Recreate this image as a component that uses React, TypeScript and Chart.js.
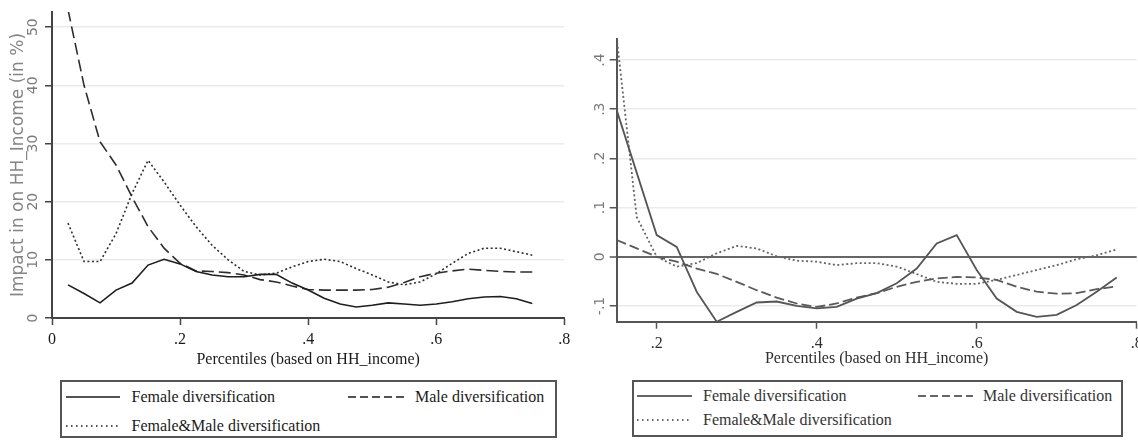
import React, { useEffect, useRef } from "react";
import { Chart, registerables } from "chart.js";

Chart.register(...registerables);

// ---------- data ----------
const leftX = [0.025, 0.05, 0.075, 0.1, 0.125, 0.15, 0.175, 0.2, 0.225, 0.25, 0.275, 0.3, 0.325, 0.35, 0.375, 0.4, 0.425, 0.45, 0.475, 0.5, 0.525, 0.55, 0.575, 0.6, 0.625, 0.65, 0.675, 0.7, 0.725, 0.75];
const leftFemale = [5.7, 4.2, 2.6, 4.8, 6.0, 9.1, 10.1, 9.3, 8.0, 7.4, 7.1, 7.1, 7.5, 7.5, 6.0, 4.8, 3.4, 2.4, 1.9, 2.2, 2.6, 2.4, 2.2, 2.4, 2.8, 3.3, 3.6, 3.7, 3.3, 2.5];
const leftMale = [53, 40.0, 30.3, 26.3, 20.8, 15.7, 12.0, 9.4, 8.1, 8.0, 7.8, 7.4, 6.6, 6.2, 5.5, 4.9, 4.8, 4.8, 4.8, 4.9, 5.3, 6.1, 7.1, 7.7, 8.1, 8.4, 8.2, 8.0, 7.9, 7.9];
const leftBoth = [16.3, 9.7, 9.7, 14.5, 21.4, 27.1, 23.4, 19.4, 15.7, 12.5, 10.0, 8.0, 7.4, 7.7, 8.8, 9.7, 10.1, 9.7, 8.5, 7.4, 6.2, 5.7, 6.2, 7.6, 9.4, 11.1, 12.0, 12.0, 11.4, 10.8];

const rightX = [0.15, 0.175, 0.2, 0.225, 0.25, 0.275, 0.3, 0.325, 0.35, 0.375, 0.4, 0.425, 0.45, 0.475, 0.5, 0.525, 0.55, 0.575, 0.6, 0.625, 0.65, 0.675, 0.7, 0.725, 0.75, 0.775];
const rightFemale = [0.298, 0.171, 0.044, 0.02, -0.071, -0.132, -0.112, -0.093, -0.091, -0.1, -0.105, -0.102, -0.085, -0.074, -0.054, -0.024, 0.027, 0.044, -0.027, -0.085, -0.112, -0.122, -0.118, -0.098, -0.071, -0.042];
const rightMale = [0.034, 0.017, 0.0, -0.01, -0.024, -0.035, -0.051, -0.068, -0.083, -0.095, -0.102, -0.095, -0.083, -0.074, -0.061, -0.051, -0.044, -0.041, -0.042, -0.047, -0.061, -0.071, -0.075, -0.074, -0.066, -0.06];
const rightBoth = [0.445, 0.081, 0.0, -0.02, -0.013, 0.007, 0.022, 0.017, 0.001, -0.008, -0.01, -0.017, -0.013, -0.013, -0.02, -0.035, -0.051, -0.055, -0.055, -0.047, -0.037, -0.027, -0.017, -0.005, 0.003, 0.015];

const seriesLabels = ["Female diversification", "Male diversification", "Female&Male diversification"];
const xTitle = "Percentiles (based on HH_income)";
const leftYTitle = "Impact in on HH_Income (in %)";

// ---------- helpers ----------
const fmtDec = (v: number) => {
  const r = Math.round(Number(v) * 10) / 10;
  if (Math.abs(r) < 1e-9) return "0";
  return r.toFixed(1).replace(/^(-?)0\./, "$1.");
};
const fmtInt = (v: number) => String(Math.round(Number(v)));

const SERIF = "'Liberation Serif', 'Times New Roman', serif";
const SANS = "'DejaVu Sans', sans-serif";

type Panel = {
  xs: number[];
  series: number[][];
  xMin: number;
  xMax: number;
  yMin: number;
  yMax: number;
  yStep: number;
  yFmt: (v: number) => string;
  pad: { top: number; right: number; bottom: number; left: number };
  yWidth: number;
  xHeight: number;
  yTickPad: number;
  xTickPad: number;
  xTitlePadBottom: number;
  yTitle?: string;
  lineColors: string[];
  lineWidths: number[];
  dashes: number[][];
  axisColor: string;
  textColor: string;
  zeroLine: boolean;
};

function makeConfig(p: Panel): any {
  return {
    type: "line",
    data: {
      datasets: p.series.map((s, k) => ({
        label: seriesLabels[k],
        data: p.xs.map((x, i) => ({ x, y: s[i] })),
        borderColor: p.lineColors[k],
        borderWidth: p.lineWidths[k],
        borderDash: p.dashes[k],
        pointRadius: 0,
        tension: 0,
        fill: false,
      })),
    },
    options: {
      animation: false,
      responsive: false,
      maintainAspectRatio: false,
      layout: { padding: p.pad },
      plugins: { legend: { display: false }, tooltip: { enabled: false } },
      scales: {
        x: {
          type: "linear",
          min: p.xMin,
          max: p.xMax,
          ticks: {
            stepSize: 0.2,
            includeBounds: false,
            autoSkip: false,
            maxRotation: 0,
            callback: (v: number) => fmtDec(v),
            font: { family: SERIF, size: 16 },
            color: p.textColor,
            padding: p.xTickPad,
          },
          grid: {
            drawOnChartArea: false,
            drawTicks: true,
            tickLength: 7,
            tickColor: p.axisColor,
            tickWidth: 1.5,
          },
          border: { color: p.axisColor, width: 2 },
          title: {
            display: true,
            text: xTitle,
            font: { family: SERIF, size: 16 },
            color: p.textColor,
            padding: { top: 0, bottom: p.xTitlePadBottom },
          },
          afterFit: (s: any) => {
            s.height = p.xHeight;
            s.paddingLeft = 0;
            s.paddingRight = 0;
          },
        },
        y: {
          type: "linear",
          min: p.yMin,
          max: p.yMax,
          ticks: {
            stepSize: p.yStep,
            includeBounds: false,
            autoSkip: false,
            minRotation: 90,
            maxRotation: 90,
            crossAlign: "center",
            callback: (v: number) => p.yFmt(v),
            font: { family: SANS, size: 14 },
            color: "#7a7a7a",
            padding: p.yTickPad,
          },
          grid: {
            color: (ctx: any) =>
              p.zeroLine && ctx.tick && Math.abs(ctx.tick.value) < 1e-9 ? "#666" : "#ebebeb",
            lineWidth: (ctx: any) =>
              p.zeroLine && ctx.tick && Math.abs(ctx.tick.value) < 1e-9 ? 2 : 1.5,
            tickLength: 7,
            tickColor: p.axisColor,
            tickWidth: 1.5,
          },
          border: { color: p.axisColor, width: 2 },
          title: p.yTitle
            ? {
                display: true,
                text: p.yTitle,
                font: { family: SANS, size: 17 },
                color: "#858585",
                padding: { top: 8, bottom: 0 },
              }
            : { display: false },
          afterFit: (s: any) => {
            s.width = p.yWidth;
            s.paddingTop = 0;
            s.paddingBottom = 0;
          },
        },
      },
    },
  };
}

const leftPanel: Panel = {
  xs: leftX,
  series: [leftFemale, leftMale, leftBoth],
  xMin: 0,
  xMax: 0.8,
  yMin: 0,
  yMax: 52.6,
  yStep: 10,
  yFmt: fmtInt,
  pad: { top: 12, right: 5.7, bottom: 0, left: 0 },
  yWidth: 52,
  xHeight: 58,
  yTickPad: 3,
  xTickPad: 5,
  xTitlePadBottom: 7,
  yTitle: leftYTitle,
  lineColors: ["#1e1e1e", "#2e2e2e", "#2e2e2e"],
  lineWidths: [1.6, 1.6, 1.6],
  dashes: [[], [12, 5], [2, 2.5]],
  axisColor: "#444",
  textColor: "#1a1a1a",
  zeroLine: false,
};

const rightPanel: Panel = {
  xs: rightX,
  series: [rightFemale, rightMale, rightBoth],
  xMin: 0.15,
  xMax: 0.8,
  yMin: -0.132,
  yMax: 0.442,
  yStep: 0.1,
  yFmt: fmtDec,
  pad: { top: 39.3, right: 1.3, bottom: 0, left: 0 },
  yWidth: 46.7,
  xHeight: 54.3,
  yTickPad: 0.5,
  xTickPad: 5,
  xTitlePadBottom: 7.4,
  lineColors: ["#555", "#5a5a5a", "#666"],
  lineWidths: [1.8, 1.8, 1.8],
  dashes: [[], [10, 4], [2, 2.5]],
  axisColor: "#555",
  textColor: "#2e2e2e",
  zeroLine: true,
};

// ---------- legend ----------
type LegendItem = { x1: number; x2: number; y: number; tx: number; dash: string; label: string };
type LegendSpec = { left: number; top: number; width: number; height: number; color: string; items: LegendItem[] };

const leftLegend: LegendSpec = {
  left: 60,
  top: 380,
  width: 497,
  height: 58,
  color: "#1a1a1a",
  items: [
    { x1: 66, x2: 120, y: 397, tx: 131.5, dash: "", label: seriesLabels[0] },
    { x1: 348, x2: 407, y: 397, tx: 415, dash: "8 4", label: seriesLabels[1] },
    { x1: 66, x2: 120, y: 426, tx: 131.5, dash: "1.5 3.5", label: seriesLabels[2] },
  ],
};

const rightLegend: LegendSpec = {
  left: 632,
  top: 380,
  width: 491,
  height: 57,
  color: "#333",
  items: [
    { x1: 637, x2: 692, y: 396, tx: 703, dash: "", label: seriesLabels[0] },
    { x1: 918, x2: 973, y: 396, tx: 983, dash: "8 4", label: seriesLabels[1] },
    { x1: 637, x2: 692, y: 420, tx: 703, dash: "1.5 3.5", label: seriesLabels[2] },
  ],
};

function Legend({ spec }: { spec: LegendSpec }) {
  return (
    <>
      <div
        style={{
          position: "absolute",
          left: spec.left,
          top: spec.top,
          width: spec.width,
          height: spec.height,
          border: "2px solid #555",
          boxSizing: "border-box",
        }}
      />
      {spec.items.map((it, i) => (
        <React.Fragment key={i}>
          <svg
            width={it.x2 - it.x1}
            height={4}
            style={{ position: "absolute", left: it.x1, top: it.y - 2 }}
          >
            <line
              x1={0}
              y1={2}
              x2={it.x2 - it.x1}
              y2={2}
              stroke={spec.color}
              strokeWidth={1.6}
              strokeDasharray={it.dash || undefined}
            />
          </svg>
          <span
            style={{
              position: "absolute",
              left: it.tx,
              top: it.y - 10,
              lineHeight: "20px",
              fontSize: 16,
              fontFamily: SERIF,
              color: spec.color,
              whiteSpace: "nowrap",
            }}
          >
            {it.label}
          </span>
        </React.Fragment>
      ))}
    </>
  );
}

export default function App() {
  const leftRef = useRef<HTMLCanvasElement | null>(null);
  const rightRef = useRef<HTMLCanvasElement | null>(null);

  useEffect(() => {
    const charts: Chart[] = [];
    if (leftRef.current) charts.push(new Chart(leftRef.current, makeConfig(leftPanel)));
    if (rightRef.current) charts.push(new Chart(rightRef.current, makeConfig(rightPanel)));
    return () => charts.forEach((c) => c.destroy());
  }, []);

  return (
    <div
      style={{
        position: "absolute",
        left: 0,
        top: 0,
        width: 1138,
        height: 441,
        background: "#fff",
        overflow: "hidden",
      }}
    >
      <canvas
        ref={leftRef}
        width={570}
        height={376}
        style={{ position: "absolute", left: 0, top: 0, width: 570, height: 376 }}
      />
      <canvas
        ref={rightRef}
        width={568}
        height={376}
        style={{ position: "absolute", left: 570, top: 0, width: 568, height: 376 }}
      />
      <Legend spec={leftLegend} />
      <Legend spec={rightLegend} />
    </div>
  );
}
